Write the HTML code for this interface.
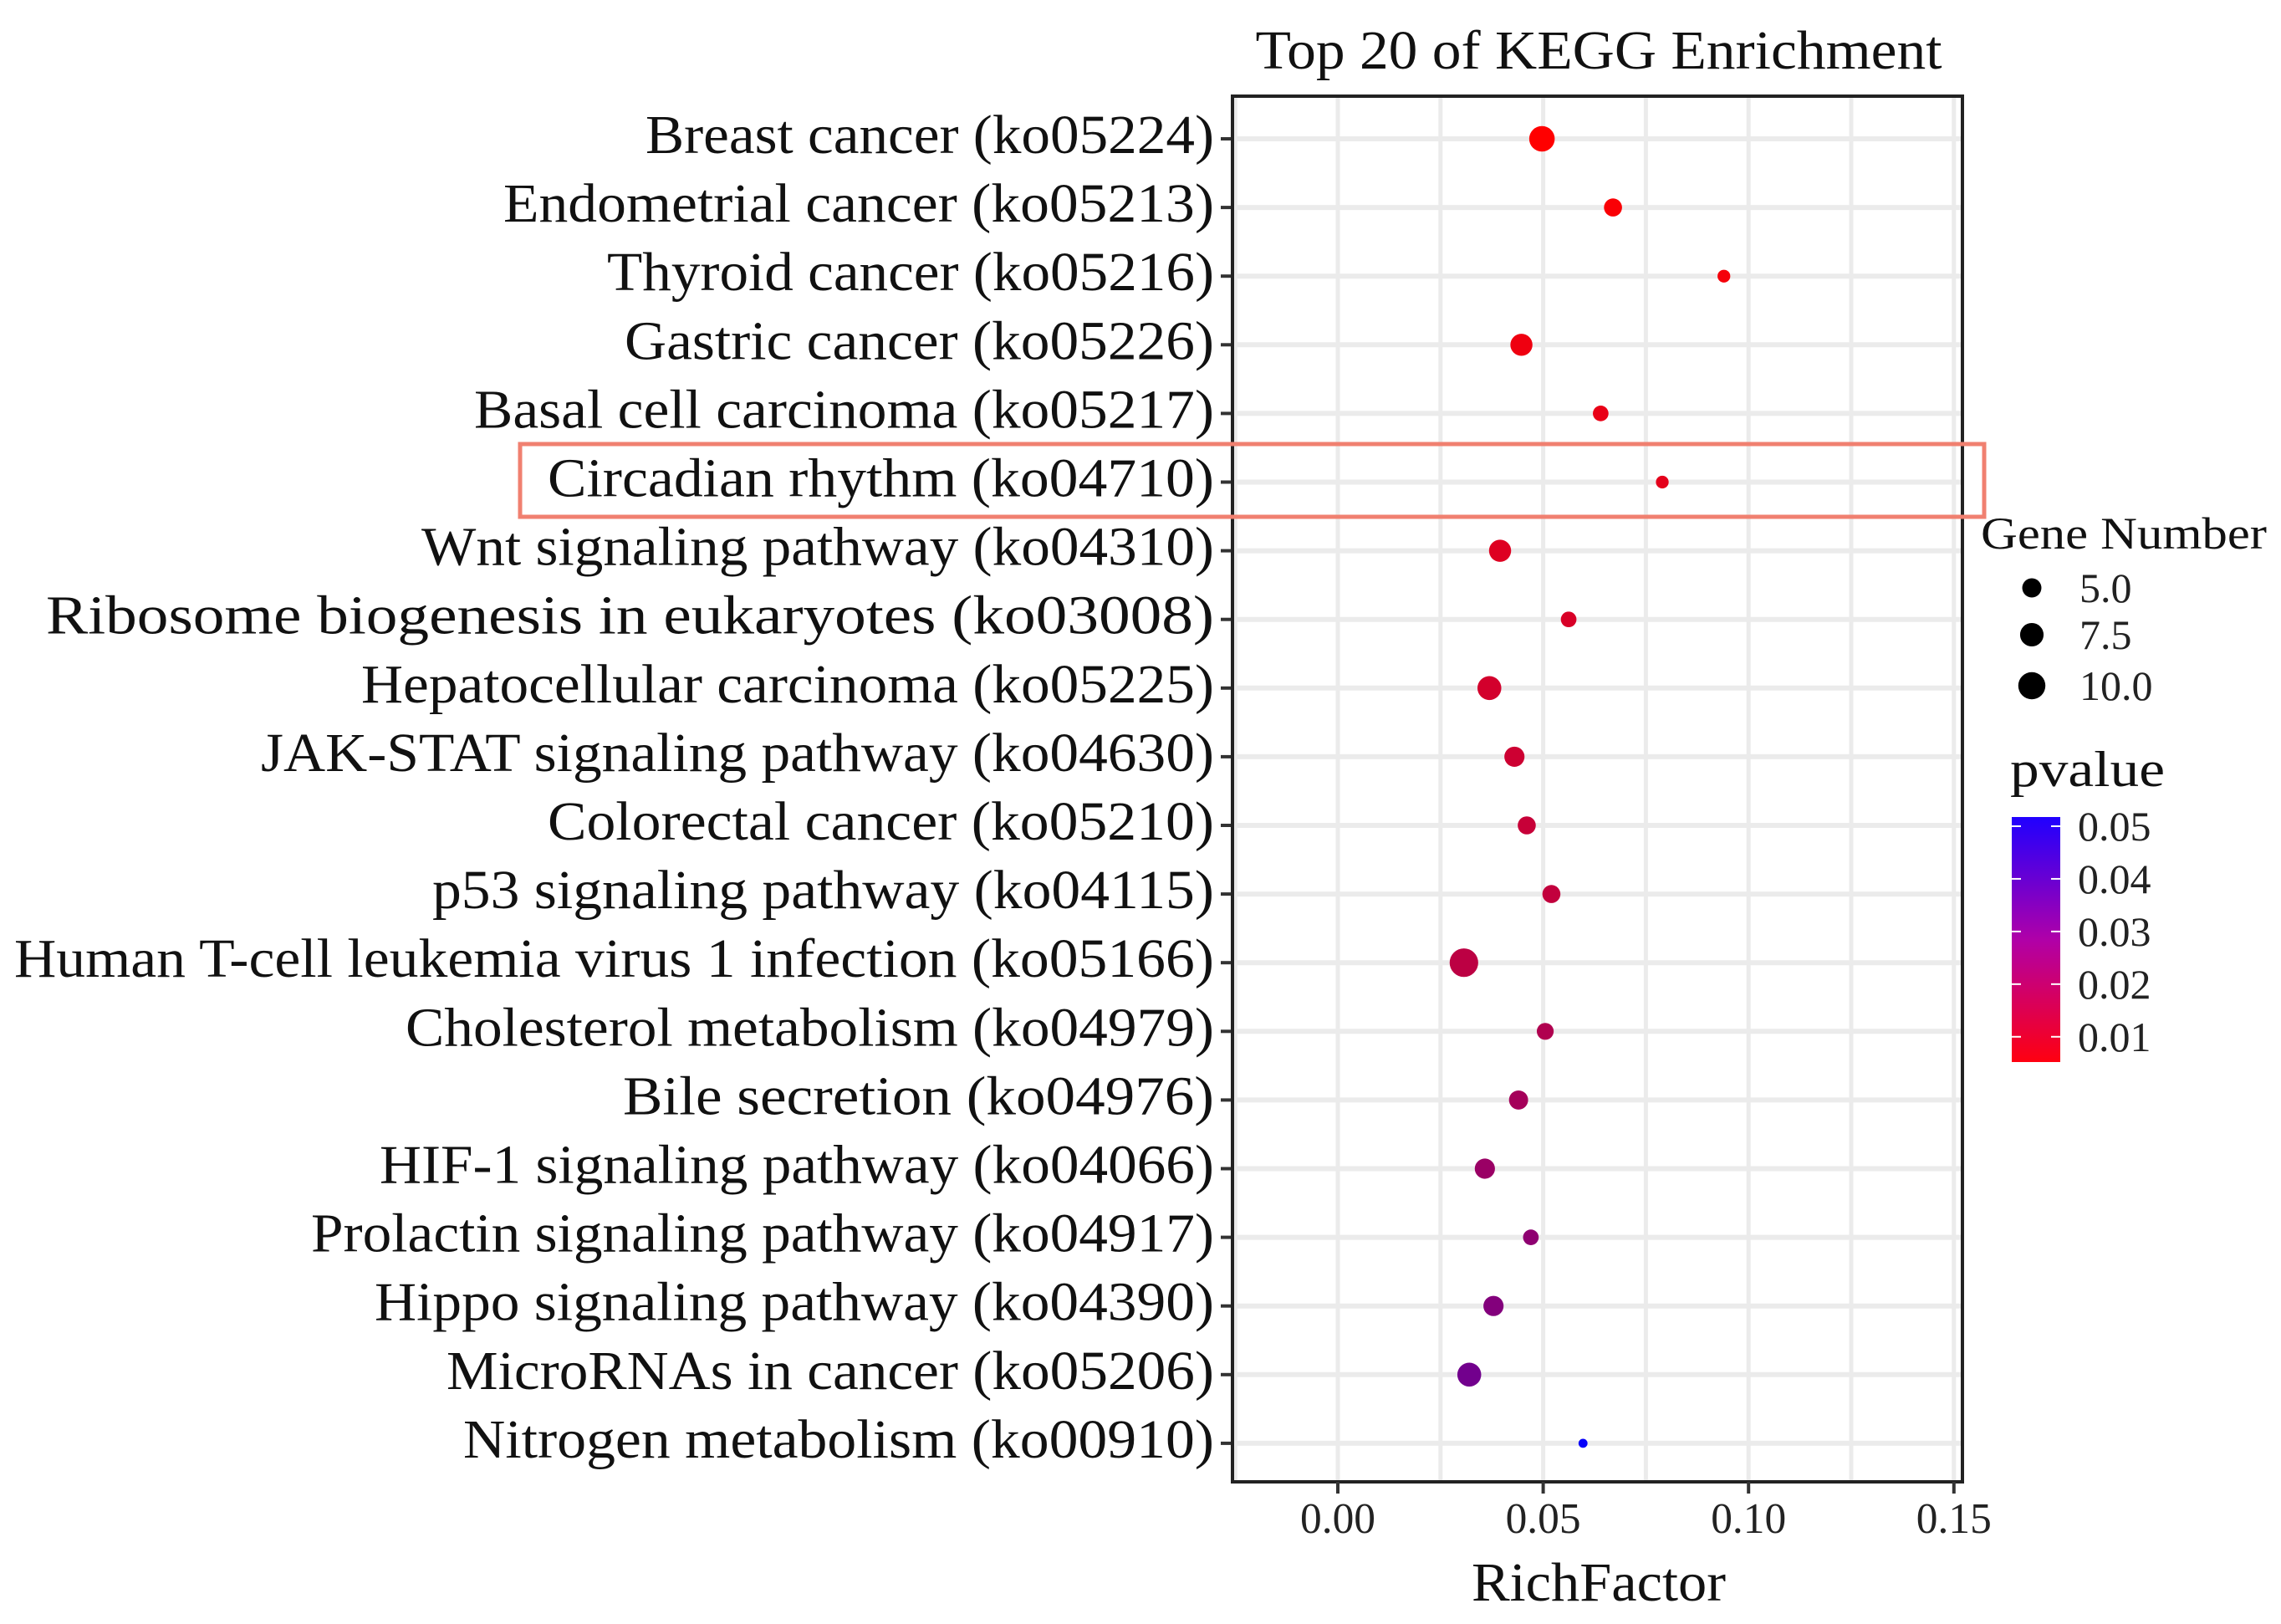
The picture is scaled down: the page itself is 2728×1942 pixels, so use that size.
<!DOCTYPE html>
<html><head><meta charset="utf-8"><style>html,body{margin:0;padding:0;background:#fff}svg{display:block}</style></head>
<body>
<svg id="chart" xmlns="http://www.w3.org/2000/svg" width="2728" height="1942" viewBox="0 0 2728 1942" font-family="'Liberation Serif', serif">
<rect width="2728" height="1942" fill="#fff"/>
<text x="1912" y="82" font-size="66" textLength="821" lengthAdjust="spacingAndGlyphs" text-anchor="middle" fill="#111">Top 20 of KEGG Enrichment</text>
<g id="grid"></g>
<g id="ylabels"></g>
<g id="points"></g>
<rect x="1474" y="115" width="873" height="1657" fill="none" stroke="#222" stroke-width="4"/>
<g id="xaxis"></g>
<text x="1912" y="1914" font-size="66" textLength="304" lengthAdjust="spacingAndGlyphs" text-anchor="middle" fill="#111">RichFactor</text>
<rect x="622" y="531" width="1751" height="87" fill="none" stroke="#f08070" stroke-width="5"/>
<g id="legend">
<text x="2369" y="656" font-size="54" textLength="342" lengthAdjust="spacingAndGlyphs" fill="#111">Gene Number</text>
<text x="2404" y="940" font-size="60" textLength="185" lengthAdjust="spacingAndGlyphs" fill="#111">pvalue</text>
<defs><linearGradient id="pg" x1="0" y1="0" x2="0" y2="1"><stop offset="0" stop-color="#2000ff"/><stop offset="0.5" stop-color="#b000a8"/><stop offset="1" stop-color="#ff0010"/></linearGradient></defs>
<rect x="2406" y="977" width="58" height="293" fill="url(#pg)"/>
</g>
<script>
const categories = ["Breast cancer (ko05224)","Endometrial cancer (ko05213)","Thyroid cancer (ko05216)","Gastric cancer (ko05226)","Basal cell carcinoma (ko05217)","Circadian rhythm (ko04710)","Wnt signaling pathway (ko04310)","Ribosome biogenesis in eukaryotes (ko03008)","Hepatocellular carcinoma (ko05225)","JAK-STAT signaling pathway (ko04630)","Colorectal cancer (ko05210)","p53 signaling pathway (ko04115)","Human T-cell leukemia virus 1 infection (ko05166)","Cholesterol metabolism (ko04979)","Bile secretion (ko04976)","HIF-1 signaling pathway (ko04066)","Prolactin signaling pathway (ko04917)","Hippo signaling pathway (ko04390)","MicroRNAs in cancer (ko05206)","Nitrogen metabolism (ko00910)"];
const labelWidths = [680,850,726,705,885,797,948,1397,1020,1140,797,935,1435,967,707,998,1080,1004,918,898];
const richFactor = [0.0497,0.067,0.094,0.0447,0.064,0.079,0.0395,0.0562,0.0369,0.043,0.046,0.052,0.0307,0.0505,0.044,0.0358,0.047,0.0379,0.032,0.0597];
const geneNumber = [8,4,2,6,3,2,6,3,7,5,4,4,10,3.5,4.5,5,3,5,7,1];
const pvalue = [0.005,0.006,0.007,0.008,0.009,0.010,0.011,0.012,0.013,0.014,0.015,0.016,0.017,0.019,0.021,0.023,0.025,0.027,0.030,0.049];
const xTicks = [0,0.05,0.10,0.15];
const xTickLabels = ["0.00","0.05","0.10","0.15"];
const sizeLegend = [5.0,7.5,10.0];
const sizeLegendLabels = ["5.0","7.5","10.0"];
const pTicks = [0.05,0.04,0.03,0.02,0.01];
const pTickLabels = ["0.05","0.04","0.03","0.02","0.01"];

const NS="http://www.w3.org/2000/svg";
const X0=1600, XPX=4912;
const x = v => X0 + v*XPX;
const y = i => 166 + i*82.1;
const r = n => 5.4*Math.sqrt(n);
const pMin=0.0052, pMax=0.05;
const py = p => 1270 - (p-pMin)/(pMax-pMin)*(1270-988);
function col(p){let t=Math.max(0,Math.min(1,(p-pMin)/(pMax-pMin)));
 return `rgb(${Math.round(255*(1-t))},0,${Math.round(255*t)})`;}
function mk(tag,attrs,parent){const e=document.createElementNS(NS,tag);for(const k in attrs)e.setAttribute(k,attrs[k]);parent.appendChild(e);return e;}
const grid=document.getElementById('grid'), yl=document.getElementById('ylabels'), pts=document.getElementById('points'), xa=document.getElementById('xaxis'), lg=document.getElementById('legend');
for(let v=-0.025; v<=0.151; v+=0.025){
 const l=mk('line',{x1:x(v),x2:x(v),y1:115,y2:1772,stroke:'#ebebeb','stroke-width':5},grid);
 
 
}
categories.forEach((c,i)=>{
 const g=mk('line',{x1:1474,x2:2347,y1:y(i),y2:y(i),stroke:'#ebebeb','stroke-width':6},grid);
 
 
 const tk=mk('line',{x1:1460,x2:1474,y1:y(i),y2:y(i),stroke:'#333','stroke-width':4},yl);
 
 
 const t=mk('text',{x:1452,y:y(i)+17,'font-size':66,'text-anchor':'end',fill:'#111',textLength:labelWidths[i],lengthAdjust:'spacingAndGlyphs'},yl);
 t.textContent=c;
 
 
 const d=mk('circle',{cx:x(richFactor[i]),cy:y(i),r:r(geneNumber[i]),fill:col(pvalue[i])},pts);
 
 
});
xTicks.forEach((v,i)=>{
 const tk=mk('line',{x1:x(v),x2:x(v),y1:1772,y2:1786,stroke:'#333','stroke-width':4},xa);
 
 
 const t=mk('text',{x:x(v),y:1833,'font-size':52,'text-anchor':'middle',fill:'#222',textLength:90,lengthAdjust:'spacingAndGlyphs'},xa);
 t.textContent=xTickLabels[i];
 
 
});
const sy=[703,759,820];
sizeLegend.forEach((n,i)=>{
 const d=mk('circle',{cx:2430,cy:sy[i],r:r(n)*0.95,fill:'#000'},lg);
 
 
 const t=mk('text',{x:2487,y:sy[i]+17,'font-size':50,fill:'#222'},lg);
 t.textContent=sizeLegendLabels[i];
 
 
});
pTicks.forEach((p,i)=>{
 const yy=py(p);
 const a=mk('line',{x1:2406,x2:2417,y1:yy,y2:yy,stroke:'#fff','stroke-width':2},lg);
 
 
 const b=mk('line',{x1:2453,x2:2464,y1:yy,y2:yy,stroke:'#fff','stroke-width':2},lg);
 
 
 const t=mk('text',{x:2485,y:yy+17,'font-size':50,fill:'#222'},lg);
 t.textContent=pTickLabels[i];
 
 
});
</script>
</svg>
</body></html>
